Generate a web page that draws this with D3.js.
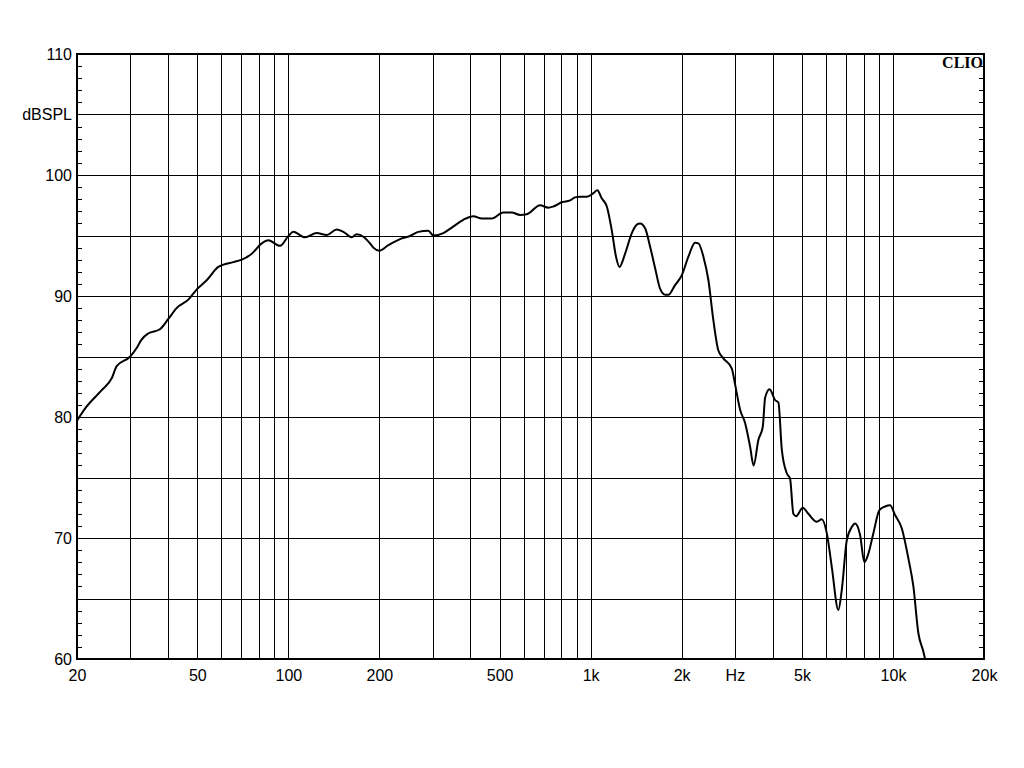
<!DOCTYPE html>
<html>
<head>
<meta charset="utf-8">
<script src="https://cdn.jsdelivr.net/npm/d3@7"></script>
<style>
  body { margin: 0; background: #fff; }
  svg { display: block; }
  .axis text { font-family: "Liberation Sans", Arial, sans-serif; font-size: 16px; fill: #000; }
  .axis path, .axis line { stroke: none; }
</style>
</head>
<body>
<svg width="1024" height="768"></svg>
<script>
const freqs = [20, 21.5, 24.1, 26.05, 27.06, 30, 31.5, 32.7, 34.4, 37.6,
  40.1, 42.7, 46.7, 49.8, 53.7, 58.7, 65.8, 70.2, 75.7, 81.7,
  85.9, 93.9, 100, 103.9, 113.6, 124.1, 134, 144.6, 152.1, 162.1,
  168.4, 177.1, 186.3, 191.1, 200, 214.2, 234.2, 252.7, 269.2, 290.5,
  301.7, 325.6, 347.2, 379.2, 409.3, 436.3, 470.8, 514.3, 548.3, 584.1,
  614.6, 680.2, 724.6, 752.8, 802.5, 855.1, 888.2, 922.5, 970.7, 1021,
  1052, 1088, 1131, 1175, 1213, 1245, 1300, 1368, 1421, 1457,
  1514, 1572, 1634, 1697, 1763, 1807, 1902, 2001, 2105, 2215,
  2272, 2360, 2452, 2546, 2645, 2748, 2930, 3004, 3121, 3242,
  3368, 3459, 3587, 3710, 3776, 3907, 4074, 4178, 4288, 4454,
  4567, 4683, 4780, 5030, 5250, 5597, 5814, 6040, 6275, 6598,
  6770, 7033, 7306, 7492, 7783, 8042, 8290, 8612, 9016, 9417,
  9782, 10160, 10690, 11245, 11680, 12130, 12605, 12770];
const spl = [79.7, 80.85, 82.2, 83.2, 84.2, 85.0, 85.7, 86.4, 86.9, 87.25,
  88.1, 89.0, 89.7, 90.55, 91.3, 92.4, 92.8, 93.0, 93.5, 94.35,
  94.6, 94.15, 94.95, 95.3, 94.85, 95.2, 95.05, 95.5, 95.3, 94.85,
  95.1, 94.9, 94.35, 94.0, 93.75, 94.2, 94.7, 94.96, 95.3, 95.4,
  95.0, 95.2, 95.65, 96.3, 96.6, 96.4, 96.4, 96.9, 96.9, 96.7,
  96.75, 97.5, 97.3, 97.4, 97.75, 97.9, 98.15, 98.2, 98.2, 98.5,
  98.75, 98.07, 97.4, 95.4, 93.25, 92.4, 93.5, 95.2, 95.9, 96.0,
  95.6, 94.1, 92.3, 90.6, 90.1, 90.1, 90.9, 91.7, 93.25, 94.4,
  94.35, 93.25, 91.3, 88.0, 85.5, 84.85, 84.0, 82.7, 80.6, 79.5,
  77.55, 76.0, 78.1, 79.2, 81.6, 82.3, 81.4, 81.2, 77.3, 75.35,
  74.9, 72.0, 71.8, 72.5, 72.0, 71.35, 71.55, 70.4, 67.6, 64.05,
  65.7, 69.8, 70.9, 71.2, 70.25, 68.0, 68.7, 70.4, 72.3, 72.6,
  72.7, 71.9, 70.8, 68.3, 66.0, 62.15, 60.6, 60.0];

const xTicks = [20, 50, 100, 200, 500, 1000, 2000, 3000, 5000, 10000, 20000];
const xTickLabels = ["20", "50", "100", "200", "500", "1k", "2k", "Hz", "5k", "10k", "20k"];
const yTicks = [60, 70, 80, 90, 100, 105, 110];
const yTickLabels = ["60", "70", "80", "90", "100", "dBSPL", "110"];
const xGrid = [20, 30, 40, 50, 60, 70, 80, 90, 100, 200, 300, 400, 500, 600, 700, 800, 900,
  1000, 2000, 3000, 4000, 5000, 6000, 7000, 8000, 9000, 10000, 20000];
const yGrid = [60, 65, 70, 75, 80, 85, 90, 95, 100, 105, 110];

const svg = d3.select("svg");
const margin = { top: 54, left: 77, right: 40, bottom: 109 };
const width = +svg.attr("width");
const height = +svg.attr("height");
const innerWidth = width - margin.left - margin.right;
const innerHeight = height - margin.top - margin.bottom;

const xScale = d3.scaleLog().domain([20, 20000]).range([0, innerWidth]);
const yScale = d3.scaleLinear().domain([60, 110]).range([innerHeight, 0]);

const g = svg.append("g").attr("transform", `translate(${margin.left}, ${margin.top})`);

// grid
g.selectAll(".vgrid").data(xGrid).enter().append("line")
  .attr("x1", (d) => Math.round(xScale(d)) + 0.5)
  .attr("x2", (d) => Math.round(xScale(d)) + 0.5)
  .attr("y1", 0).attr("y2", innerHeight)
  .attr("stroke", "#000").attr("stroke-width", 1);

g.selectAll(".hgrid").data(yGrid).enter().append("line")
  .attr("y1", (d) => Math.round(yScale(d)) + 0.5)
  .attr("y2", (d) => Math.round(yScale(d)) + 0.5)
  .attr("x1", 0).attr("x2", innerWidth)
  .attr("stroke", "#000").attr("stroke-width", 1);

// small inside ticks every dB on left and right
const minor = d3.range(60, 111, 1);
g.selectAll(".tl").data(minor).enter().append("line")
  .attr("x1", 0).attr("x2", 5)
  .attr("y1", (d) => Math.round(yScale(d)) + 0.5)
  .attr("y2", (d) => Math.round(yScale(d)) + 0.5)
  .attr("stroke", "#000");
g.selectAll(".tr").data(minor).enter().append("line")
  .attr("x1", innerWidth - 5).attr("x2", innerWidth)
  .attr("y1", (d) => Math.round(yScale(d)) + 0.5)
  .attr("y2", (d) => Math.round(yScale(d)) + 0.5)
  .attr("stroke", "#000");

// frame
g.append("rect")
  .attr("x", 0).attr("y", 0)
  .attr("width", innerWidth).attr("height", innerHeight)
  .attr("fill", "none").attr("stroke", "#000").attr("stroke-width", 2);

// axes
const xAxis = d3.axisBottom(xScale)
  .tickValues(xTicks)
  .tickSize(0)
  .tickPadding(11)
  .tickFormat((d, i) => xTickLabels[i]);
g.append("g").attr("class", "axis")
  .attr("transform", `translate(0, ${innerHeight})`)
  .call(xAxis);

const yAxis = d3.axisLeft(yScale)
  .tickValues(yTicks)
  .tickSize(0)
  .tickPadding(5)
  .tickFormat((d, i) => yTickLabels[i]);
g.append("g").attr("class", "axis").call(yAxis);

// response curve
const points = freqs.map((f, i) => ({ f: f, db: spl[i] }));
const line = d3.line()
  .x((d) => xScale(d.f))
  .y((d) => yScale(d.db))
  .curve(d3.curveMonotoneX);

g.append("path")
  .attr("d", line(points))
  .attr("fill", "none")
  .attr("stroke", "#000")
  .attr("stroke-width", 2)
  .attr("stroke-linejoin", "round");

// logo
g.append("text")
  .attr("x", innerWidth - 1)
  .attr("y", 14)
  .attr("text-anchor", "end")
  .attr("font-family", "Liberation Serif, serif")
  .attr("font-weight", "bold")
  .attr("font-size", 16)
  .text("CLIO");
</script>
</body>
</html>
